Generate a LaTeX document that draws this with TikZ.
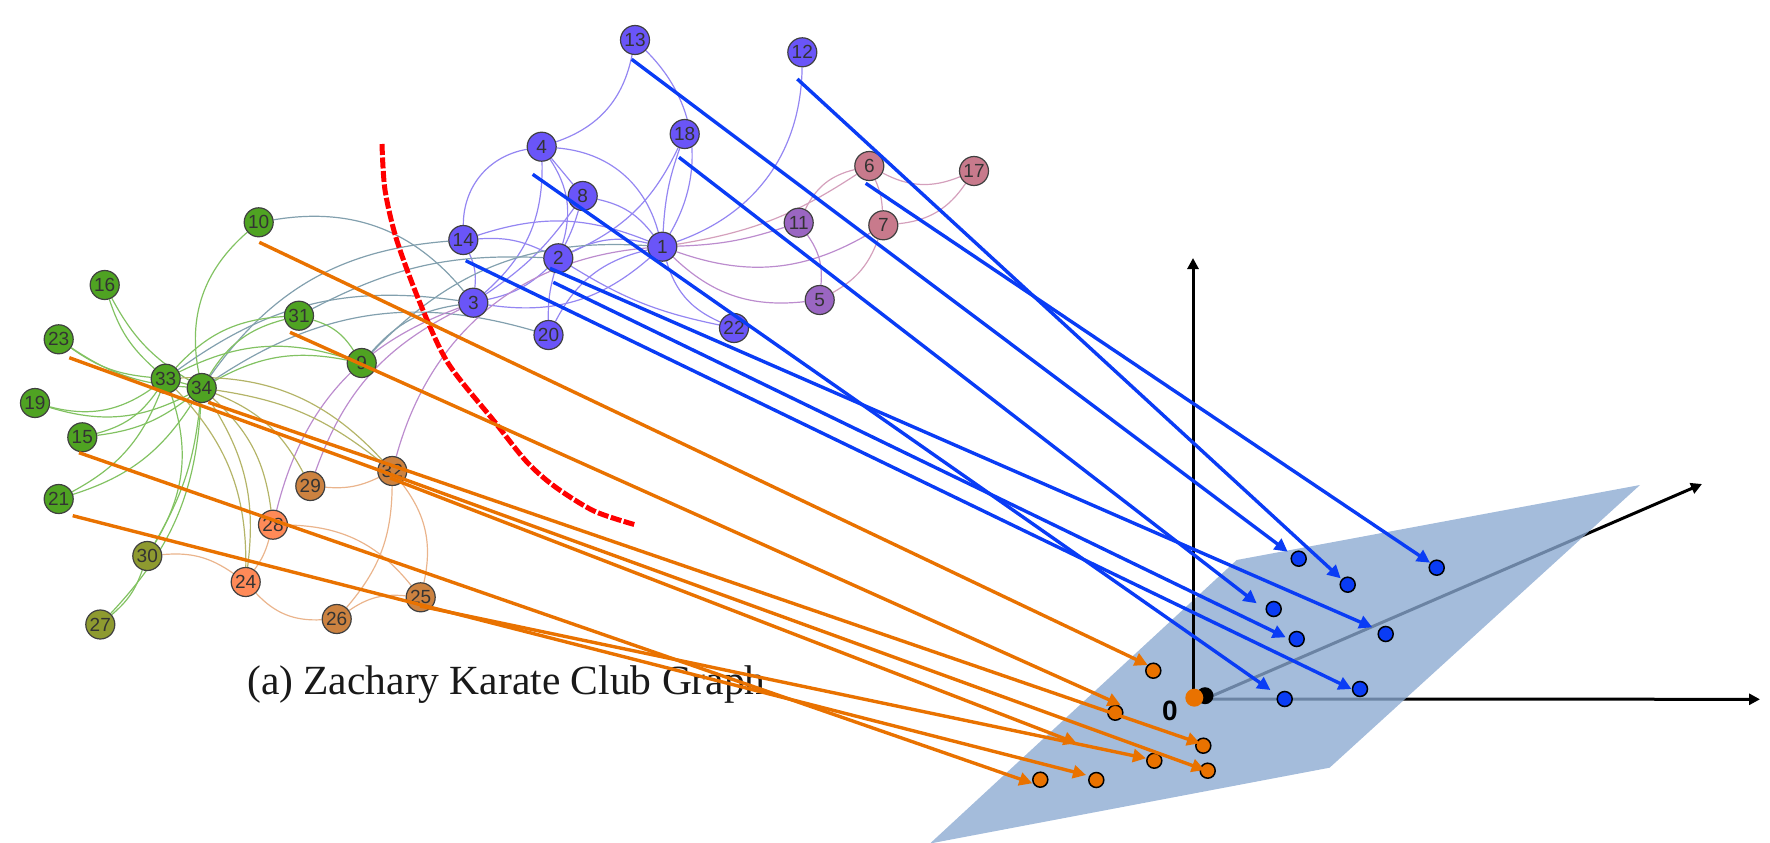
\documentclass[tikz,border=0pt]{standalone}
\usepackage{fontspec}
\setmainfont{Liberation Serif}
\setsansfont{Liberation Sans}
\usetikzlibrary{arrows.meta,backgrounds}
\definecolor{nBlue}{HTML}{6A55F8}
\definecolor{nGreen}{HTML}{4FA322}
\definecolor{nPink}{HTML}{C87A8C}
\definecolor{nViolet}{HTML}{9A66C2}
\definecolor{nBrown}{HTML}{CC8240}
\definecolor{nSalmon}{HTML}{FF8A58}
\definecolor{nOlive}{HTML}{8E9A30}
\definecolor{eBlue}{HTML}{9486F2}
\definecolor{eGreen}{HTML}{82C262}
\definecolor{eTeal}{HTML}{82A0AE}
\definecolor{eViolet}{HTML}{BC8CCE}
\definecolor{eOlive}{HTML}{B4B468}
\definecolor{eOrange}{HTML}{EAB48C}
\definecolor{ePink}{HTML}{D4A0BC}
\definecolor{arrOrange}{HTML}{E97200}
\definecolor{arrBlue}{HTML}{0A3CF5}
\definecolor{planeC}{RGB}{138,169,209}
\tikzset{
  x=1pt,y=-1pt,
  gn/.style={circle,draw=black!75,line width=1.2pt,inner sep=0pt,minimum size=29pt,text=black!80,font=\sffamily\fontsize{19}{19}\selectfont},
  nb/.style={gn,fill=nBlue},
  ng/.style={gn,fill=nGreen},
  np/.style={gn,fill=nPink},
  nv/.style={gn,fill=nViolet},
  nr/.style={gn,fill=nBrown},
  ns/.style={gn,fill=nSalmon},
  no/.style={gn,fill=nOlive},
  eb/.style={draw=eBlue,line width=1.2pt},
  eg/.style={draw=eGreen,line width=1.2pt},
  et/.style={draw=eTeal,line width=1.2pt},
  ev/.style={draw=eViolet,line width=1.2pt},
  eo/.style={draw=eOlive,line width=1.2pt},
  ea/.style={draw=eOrange,line width=1.2pt},
  ep/.style={draw=ePink,line width=1.2pt},
  oarrow/.style={draw=arrOrange,line width=3.4pt,-{Triangle[length=13pt,width=13pt]}},
  barrow/.style={draw=arrBlue,line width=3.4pt,-{Triangle[length=13pt,width=13pt]}},
  odot/.style={circle,draw=black,line width=1.5pt,fill=arrOrange,inner sep=0pt,minimum size=15pt},
  bdot/.style={circle,draw=black,line width=1.5pt,fill=arrBlue,inner sep=0pt,minimum size=15pt},
  axisline/.style={draw=black,line width=3pt,-{Triangle[length=11pt,width=11pt]}},
}
\begin{document}
\begin{tikzpicture}
\useasboundingbox (0,0) rectangle (1770,843);
% graph nodes
\node[nb] (n13) at (635,40) {13};
\node[nb] (n12) at (802.3,52.3) {12};
\node[nb] (n4) at (541.7,146.7) {4};
\node[nb] (n18) at (684.7,134) {18};
\node[nb] (n8) at (582.7,196) {8};
\node[np] (n6) at (869.3,166) {6};
\node[np] (n17) at (974,171) {17};
\node[nv] (n11) at (798.7,222.7) {11};
\node[np] (n7) at (883.3,225.3) {7};
\node[nb] (n14) at (463.3,240) {14};
\node[nb] (n2) at (558.3,258.3) {2};
\node[nb] (n1) at (662.3,246.7) {1};
\node[nb] (n3) at (473.3,302.7) {3};
\node[nv] (n5) at (819.7,300) {5};
\node[nb] (n22) at (734,328) {22};
\node[nb] (n20) at (548.5,335) {20};
\node[ng] (n10) at (258.7,222.3) {10};
\node[ng] (n16) at (104.7,285) {16};
\node[ng] (n23) at (58.7,339.3) {23};
\node[ng] (n19) at (35,403) {19};
\node[ng] (n15) at (82.3,437.3) {15};
\node[ng] (n21) at (58.7,499) {21};
\node[ng] (n33) at (165.7,378.7) {33};
\node[ng] (n34) at (201.7,388) {34};
\node[ng] (n31) at (299,315.7) {31};
\node[ng] (n9) at (361.7,363) {9};
\node[nr] (n29) at (310.3,486) {29};
\node[nr] (n32) at (392.3,471) {32};
\node[ns] (n28) at (273,524.7) {28};
\node[no] (n30) at (147.3,556) {30};
\node[ns] (n24) at (245.7,582) {24};
\node[nr] (n25) at (420.7,597.3) {25};
\node[nr] (n26) at (336.7,619) {26};
\node[no] (n27) at (100.3,624.5) {27};
% caption
\begin{scope}
\clip (240,650) rectangle (761,710);
\node[anchor=base west,font=\fontsize{41.5}{41.5}\selectfont,text=black!90,inner sep=0pt] (cap) at (247,694) {(a) Zachary Karate Club Graph};
\end{scope}
\begin{scope}[on background layer]
% axes below the plane
\coordinate (org) at (1205,699);
\coordinate (xtip) at (1760,699.3);
\coordinate (ztip) at (1702,484);
\coordinate (ytip) at (1193,258);
\draw[axisline] (org) -- (xtip);
\draw[axisline] (org) -- (ztip);
\fill[planeC,opacity=.78] (930,843.5) -- (1236.7,560) -- (1640,485) -- (1329.6,767.7) -- cycle;
\draw[axisline] (1193,705) -- (ytip);
% blue-blue edges
\draw[eb] (n13) to[bend left=30] (n4);
\draw[eb] (n13) to[bend left=38] (n1);
\draw[eb] (n1) to[bend right=35] (n12);
\draw[eb] (n4) to[bend right=40] (n14);
\draw[eb] (n4) to[bend left=25] (n3);
\draw[eb] (n4) to[bend left=25] (n2);
\draw[eb] (n4) to (n8);
\draw[eb] (n4) to[bend left=35] (n1);
\draw[eb] (n8) to[bend left=20] (n1);
\draw[eb] (n8) to[bend left=5] (n2);
\draw[eb] (n8) to[bend left=10] (n3);
\draw[eb] (n14) to[bend left=20] (n1);
\draw[eb] (n14) to[bend left=15] (n2);
\draw[eb] (n14) to[bend left=15] (n3);
\draw[eb] (n3) to[bend right=15] (n2);
\draw[eb] (n3) to[bend right=25] (n1);
\draw[eb] (n2) to[bend left=20] (n1);
\draw[eb] (n18) to[bend left=20] (n2);
\draw[eb] (n18) to[bend right=8] (n1);
\draw[eb] (n2) to[bend right=8] (n20);
\draw[eb] (n1) to[bend right=25] (n20);
\draw[eb] (n2) to[bend right=10] (n22);
\draw[eb] (n1) to[bend right=25] (n22);
% blue to violet and pink
\draw[ev] (n1) to[bend right=25] (n5);
\draw[ev] (n1) to[bend right=8] (n11);
\draw[ep] (n1) to[bend right=12] (n6);
\draw[ev] (n1) to[bend right=25] (n7);
% violet and pink
\draw[ep] (n11) to[bend left=25] (n6);
\draw[ep] (n6) to[bend left=10] (n7);
\draw[ep] (n6) to[bend right=25] (n17);
\draw[ep] (n7) to[bend right=25] (n17);
\draw[ep] (n5) to[bend right=20] (n7);
\draw[ev] (n11) to[bend left=20] (n5);
% blue to green
\draw[et] (n34) to[bend left=25] (n14);
\draw[et] (n34) to[bend left=25] (n20);
\draw[et] (n33) to[bend left=22] (n3);
\draw[et] (n10) to[bend left=30] (n3);
\draw[et] (n31) to[bend left=15] (n2);
\draw[et] (n1) to[bend right=25] (n9);
\draw[et] (n3) to[bend right=20] (n9);
% blue to brown
\draw[ev] (n3) to[bend right=22] (n29);
\draw[ev] (n3) to[bend right=28] (n28);
\draw[ev] (n1) to[bend right=35] (n32);
% green
\draw[eg] (n31) to[bend left=20] (n9);
\draw[eg] (n34) to[bend left=20] (n9);
\draw[eg] (n33) to[bend left=22] (n9);
\draw[eg] (n33) to[bend left=22] (n31);
\draw[eg] (n34) to[bend left=22] (n31);
\draw[eg] (n10) to[bend right=30] (n34);
\draw[eg] (n16) to[bend right=15] (n33);
\draw[eg] (n16) to[bend right=15] (n34);
\draw[eg] (n23) to[bend right=15] (n33);
\draw[eg] (n23) to[bend right=15] (n34);
\draw[eg] (n19) to[bend right=25] (n33);
\draw[eg] (n19) to[bend right=22] (n34);
\draw[eg] (n15) to[bend right=20] (n33);
\draw[eg] (n15) to[bend right=15] (n34);
\draw[eg] (n21) to[bend right=20] (n33);
\draw[eg] (n21) to[bend right=20] (n34);
\draw[eg] (n33) -- (n34);
\draw[eg] (n30) to[bend right=25] (n33);
\draw[eg] (n30) to[bend right=12] (n34);
\draw[eg] (n27) to[bend right=20] (n34);
\draw[eg] (n30) to[bend left=15] (n27);
% olive
\draw[eo] (n33) to[bend left=22] (n24);
\draw[eo] (n34) to[bend left=20] (n24);
\draw[eo] (n34) to[bend left=20] (n28);
\draw[eo] (n34) to[bend left=20] (n29);
\draw[eo] (n33) to[bend left=25] (n32);
\draw[eo] (n34) to[bend left=15] (n32);
% orange
\draw[ea] (n24) to[bend right=10] (n28);
\draw[ea] (n24) to[bend right=25] (n26);
\draw[ea] (n30) to[bend left=20] (n24);
\draw[ea] (n26) to[bend left=20] (n25);
\draw[ea] (n26) to[bend right=20] (n32);
\draw[ea] (n28) to[bend left=25] (n25);
\draw[ea] (n32) to[bend left=25] (n25);
\draw[ea] (n29) to[bend right=15] (n32);
\end{scope}
% separating curve
\draw[red,line width=5pt,dash pattern=on 11pt off 2.5pt] plot[smooth] coordinates {(382,144) (385,190) (396.7,240) (420,303) (448,363) (494,421) (526,461) (554,486) (594,511) (636,525)};
% projected points
\node[odot] (o1) at (1153.3,670.7) {};
\node[odot] (o2) at (1115.3,712.7) {};
\node[odot] (o3) at (1203.3,745.7) {};
\node[odot] (o4) at (1207.7,770.7) {};
\node[odot] (o5) at (1154.3,760.7) {};
\node[odot] (o6) at (1096.3,780) {};
\node[odot] (o7) at (1040.3,779.7) {};
\node[bdot] (b1) at (1298.7,558.7) {};
\node[bdot] (b2) at (1347.7,584.7) {};
\node[bdot] (b3) at (1436.7,567.7) {};
\node[bdot] (b4) at (1273.7,609) {};
\node[bdot] (b5) at (1296.7,639) {};
\node[bdot] (b6) at (1385.7,634) {};
\node[bdot] (b7) at (1284.7,699) {};
\node[bdot] (b8) at (1360,689) {};
\node[circle,fill=black,inner sep=0pt,minimum size=17pt] (org1) at (1205,695.7) {};
\node[circle,fill=arrOrange,inner sep=0pt,minimum size=18pt] (org2) at (1194.3,697.7) {};
\node[font=\sffamily\bfseries\fontsize{28}{28}\selectfont,inner sep=0pt] (zero) at (1170,711) {0};
% orange connectors
\coordinate (sa) at (259.3,242.3); \coordinate (ta) at (1147.7,665);
\coordinate (sb) at (290,332.3);   \coordinate (tb) at (1120.7,705);
\coordinate (sc) at (208.3,402.3); \coordinate (tc) at (1200,743.3);
\coordinate (sd) at (69.3,357.7);  \coordinate (td) at (1204.7,770);
\coordinate (se) at (390,478);     \coordinate (te) at (1076.7,743.3);
\coordinate (sf) at (79,452.7);    \coordinate (tf) at (1032.3,783.3);
\coordinate (sg) at (72.7,515.7);  \coordinate (tg) at (1086,775);
\coordinate (sh) at (420,606);     \coordinate (th) at (1146,758.3);
\draw[oarrow] (sa) -- (ta);
\draw[oarrow] (sb) -- (tb);
\draw[oarrow] (sc) -- (tc);
\draw[oarrow] (sd) -- (td);
\draw[oarrow] (se) -- (te);
\draw[oarrow] (sf) -- (tf);
\draw[oarrow] (sg) -- (tg);
\draw[oarrow] (sh) -- (th);
% blue connectors
\coordinate (u1) at (631.7,59.3);  \coordinate (v1) at (1287.7,551.7);
\coordinate (u2) at (797.3,79);    \coordinate (v2) at (1340.7,578.3);
\coordinate (u3) at (865.7,183.3); \coordinate (v3) at (1430,562.7);
\coordinate (u4) at (679,157.3);   \coordinate (v4) at (1256.7,603.3);
\coordinate (u5) at (553.3,282.3); \coordinate (v5) at (1285.7,637.3);
\coordinate (u6) at (550,268.3);   \coordinate (v6) at (1372.3,627.3);
\coordinate (u7) at (532.7,174.3); \coordinate (v7) at (1270.4,690);
\coordinate (u8) at (465.7,260.7); \coordinate (v8) at (1351.5,689);
\draw[barrow] (u1) -- (v1);
\draw[barrow] (u2) -- (v2);
\draw[barrow] (u3) -- (v3);
\draw[barrow] (u4) -- (v4);
\draw[barrow] (u5) -- (v5);
\draw[barrow] (u6) -- (v6);
\draw[barrow] (u7) -- (v7);
\draw[barrow] (u8) -- (v8);
\end{tikzpicture}
\end{document}
